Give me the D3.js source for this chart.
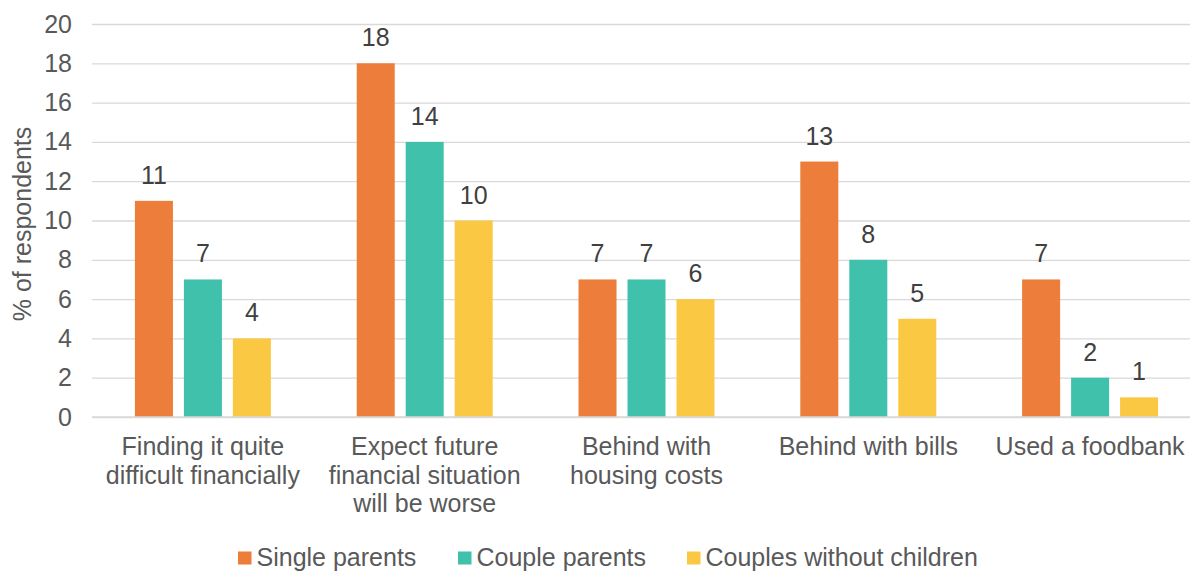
<!DOCTYPE html>
<html>
<head>
<meta charset="utf-8">
<script src="https://cdn.jsdelivr.net/npm/d3@7"></script>
<style>
  html, body { margin: 0; padding: 0; background: #fff; }
  svg { display: block; font-family: "Liberation Sans", Arial, sans-serif; }
</style>
</head>
<body>
<svg id="chart" width="1190" height="571"></svg>
<script>
// Survey categories (each label split into display lines)
const categories = [
  ["Finding it quite", "difficult financially"],
  ["Expect future", "financial situation", "will be worse"],
  ["Behind with", "housing costs"],
  ["Behind with bills"],
  ["Used a foodbank"]
];
const seriesNames = ["Single parents", "Couple parents", "Couples without children"];
const singleParents = [11, 18, 7, 13, 7];
const coupleParents = [7, 14, 7, 8, 2];
const couplesNoChildren = [4, 10, 6, 5, 1];
const yTicks = [0, 2, 4, 6, 8, 10, 12, 14, 16, 18, 20];
const colors = ["#ED7D3A", "#40C1AC", "#FBC844"];

const series = [singleParents, coupleParents, couplesNoChildren];
const svg = d3.select("#chart");
const textColor = "#595959";
const gridColor = "#d9d9d9";
const fontSize = "25px";

const plot = { left: 92, right: 1201, top: 24, bottom: 417 };

const y = d3.scaleLinear().domain([0, 20]).range([plot.bottom, plot.top]);
const x0 = d3.scaleBand()
  .domain(d3.range(categories.length))
  .range([plot.left, plot.right])
  .paddingInner(0.387).paddingOuter(0.387 / 2);
const x1 = d3.scaleBand()
  .domain(d3.range(series.length))
  .range([0, x0.bandwidth()])
  .paddingInner(0.224).paddingOuter(0);

// Horizontal gridlines and y tick labels
const yAxis = d3.axisLeft(y).tickValues(yTicks).tickSize(-(1190 - plot.left)).tickPadding(20);
const gy = svg.append("g").attr("transform", `translate(${plot.left},0)`).call(yAxis);
gy.select(".domain").remove();
gy.selectAll(".tick line").attr("stroke", gridColor).attr("stroke-width", 1.3);
gy.selectAll(".tick text")
  .attr("fill", textColor)
  .style("font-size", fontSize)
  .style("font-family", "Liberation Sans, Arial, sans-serif");

// Y axis title
svg.append("text")
  .attr("transform", `translate(31,224) rotate(-90)`)
  .attr("text-anchor", "middle")
  .attr("fill", textColor)
  .style("font-size", fontSize)
  .text("% of respondents");

// Bars with value labels
const groups = svg.append("g").selectAll("g")
  .data(categories)
  .join("g")
  .attr("transform", (d, i) => `translate(${x0(i)},0)`);

groups.each(function(cat, ci) {
  const g = d3.select(this);
  series.forEach((vals, si) => {
    const v = vals[ci];
    g.append("rect")
      .attr("x", x1(si))
      .attr("y", y(v))
      .attr("width", x1.bandwidth())
      .attr("height", y(0) - y(v))
      .attr("fill", colors[si]);
    g.append("text")
      .attr("x", x1(si) + x1.bandwidth() / 2)
      .attr("y", y(v) - 17)
      .attr("text-anchor", "middle")
      .attr("fill", "#404040")
      .style("font-size", fontSize)
      .text(v);
  });
});

// Baseline
svg.append("line")
  .attr("x1", plot.left).attr("x2", 1190)
  .attr("y1", y(0)).attr("y2", y(0))
  .attr("stroke", gridColor).attr("stroke-width", 1.3);

// Category labels
categories.forEach((lines, ci) => {
  const cx = x0(ci) + x0.bandwidth() / 2;
  const t = svg.append("text")
    .attr("text-anchor", "middle")
    .attr("fill", textColor)
    .style("font-size", fontSize);
  lines.forEach((ln, li) => {
    t.append("tspan").attr("x", cx).attr("y", 455 + li * 28.5).text(ln);
  });
});

// Legend
const legendItems = [
  { x: 238, label: seriesNames[0] },
  { x: 458, label: seriesNames[1] },
  { x: 687, label: seriesNames[2] }
];
legendItems.forEach((it, i) => {
  svg.append("rect")
    .attr("x", it.x).attr("y", 551.5).attr("width", 13.5).attr("height", 13)
    .attr("fill", colors[i]);
  svg.append("text")
    .attr("x", it.x + 18.5).attr("y", 565.5)
    .attr("fill", textColor)
    .style("font-size", fontSize)
    .text(it.label);
});
</script>
</body>
</html>
